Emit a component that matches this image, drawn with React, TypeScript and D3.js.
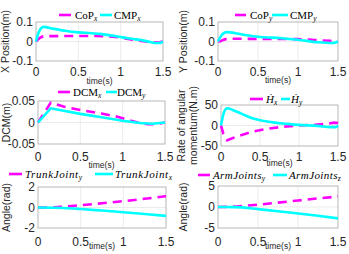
import React from 'react'
import * as d3 from 'd3'

const MAGENTA = '#ff00ff'
const CYAN = '#00ffff'

const X_TICKS = [0, 0.5, 1, 1.5]

// panel 1: X position
const cmpXT = [0, 0.03, 0.06, 0.09, 0.2, 0.36, 0.5, 0.75, 0.9, 1.02, 1.15, 1.25, 1.35, 1.42, 1.47, 1.5]
const cmpX = [0, 0.045, 0.068, 0.075, 0.066, 0.054, 0.047, 0.039, 0.03, 0.021, 0.013, 0.007, -0.003, -0.008, -0.007, 0]
const copXT = [0, 0.05, 0.1, 0.4, 0.7, 0.9, 1.05, 1.2, 1.35, 1.45, 1.5]
const copX = [0, 0.02, 0.027, 0.028, 0.028, 0.025, 0.016, 0.006, -0.003, -0.005, 0]

// panel 2: Y position
const cmpYT = [0, 0.04, 0.08, 0.11, 0.3, 0.5, 0.8, 1.0, 1.25, 1.44, 1.5]
const cmpY = [0, 0.03, 0.045, 0.048, 0.036, 0.024, 0.017, 0.009, -0.004, -0.008, 0]
const copYT = [0, 0.03, 0.1, 0.2, 0.6, 1.0, 1.2, 1.4, 1.5]
const copY = [0, 0.002, 0.012, 0.014, 0.013, 0.012, 0.008, 0.003, 0]

// panel 3: DCM
const dcmXT = [0, 0.15, 0.3, 0.5, 0.75, 0.95, 1.1, 1.2, 1.3, 1.4, 1.5]
const dcmX = [0, 0.046, 0.037, 0.029, 0.021, 0.013, 0.004, -0.001, -0.004, -0.004, 0]
const dcmYT = [0, 0.15, 0.5, 0.75, 1.0, 1.2, 1.35, 1.5]
const dcmY = [0, 0.033, 0.02, 0.012, 0.004, -0.001, -0.003, 0]

// panel 4: rate of angular momentum
const hxT = [0, 0.03, 0.08, 0.2, 0.4, 0.6, 0.8, 1.0, 1.2, 1.35, 1.45, 1.5]
const hx = [0, -20, -36, -27, -15, -8, -3, 0, 2, 4, 7, 6]
const hyT = [0, 0.04, 0.08, 0.15, 0.26, 0.41, 0.55, 0.69, 0.85, 0.99, 1.24, 1.41, 1.47, 1.5]
const hy = [0, 33, 42, 38, 29, 17, 11, 7, 4, 1.5, -1, -4, -4, 0]

// panel 5: trunk joints
const jointT = [0, 0.2, 0.3, 0.5, 0.75, 1.0, 1.25, 1.5]
const trunkY = [0, 0.02, 0.08, 0.22, 0.42, 0.62, 0.85, 1.1]
const trunkX = [0, -0.02, -0.05, -0.15, -0.3, -0.46, -0.63, -0.82]

// panel 6: arm joints
const armY = [0, 0.1, 0.25, 0.55, 1.05, 1.55, 2.05, 2.5]
const armZ = [0, -0.02, -0.1, -0.5, -1.0, -1.55, -2.1, -2.7]

type Series = { t: number[]; v: number[]; color: string; dashed: boolean; linear?: boolean }
type LegendItem = { x1: number; x2: number; tx: number; base: string; sub: string; italic: boolean; ls?: number }

type Panel = {
  box: [number, number, number, number]
  yDomain: [number, number]
  yTicks: number[]
  yLabels: string[]
  ylabel: string[]
  ylabelX: number[]
  tickY: number
  timeY: number
  legendY: number
  legend: LegendItem[]
  series: Series[]
}

const PANELS: Panel[] = [
  {
    box: [36, 22, 163, 61],
    yDomain: [-0.1, 0.1],
    yTicks: [-0.1, 0, 0.1],
    yLabels: ['-0.1', '0', '0.1'],
    ylabel: ['X Position(m)'],
    ylabelX: [5],
    tickY: 72,
    timeY: 81,
    legendY: 15,
    legend: [
      { x1: 59, x2: 71, tx: 75, base: 'CoP', sub: 'x', italic: false },
      { x1: 100, x2: 112, tx: 114, base: 'CMP', sub: 'x', italic: false },
    ],
    series: [
      { t: copXT, v: copX, color: MAGENTA, dashed: true },
      { t: cmpXT, v: cmpX, color: CYAN, dashed: false },
    ],
  },
  {
    box: [218, 22, 338, 61],
    yDomain: [-0.1, 0.1],
    yTicks: [-0.1, 0, 0.1],
    yLabels: ['-0.1', '0', '0.1'],
    ylabel: ['Y Position(m)'],
    ylabelX: [183],
    tickY: 72,
    timeY: 80,
    legendY: 15,
    legend: [
      { x1: 235, x2: 246, tx: 250, base: 'CoP', sub: 'y', italic: false },
      { x1: 272, x2: 288, tx: 290, base: 'CMP', sub: 'y', italic: false },
    ],
    series: [
      { t: copYT, v: copY, color: MAGENTA, dashed: true },
      { t: cmpYT, v: cmpY, color: CYAN, dashed: false },
    ],
  },
  {
    box: [38, 101, 165, 144],
    yDomain: [-0.05, 0.05],
    yTicks: [-0.05, 0, 0.05],
    yLabels: ['-0.05', '0', '0.05'],
    ylabel: ['DCM(m)'],
    ylabelX: [6],
    tickY: 157,
    timeY: 165,
    legendY: 92,
    legend: [
      { x1: 58, x2: 70, tx: 73, base: 'DCM', sub: 'x', italic: false },
      { x1: 106, x2: 117, tx: 117, base: 'DCM', sub: 'y', italic: false },
    ],
    series: [
      { t: dcmXT, v: dcmX, color: MAGENTA, dashed: true, linear: true },
      { t: dcmYT, v: dcmY, color: CYAN, dashed: false, linear: true },
    ],
  },
  {
    box: [221, 105, 338, 146],
    yDomain: [-50, 50],
    yTicks: [-50, 0, 50],
    yLabels: ['-50', '0', '50'],
    ylabel: ['Rate of angular', 'momentum(N.m)'],
    ylabelX: [181, 193],
    tickY: 157,
    timeY: 163,
    legendY: 99,
    legend: [
      { x1: 250, x2: 263, tx: 266, base: '\u1E22', sub: 'x', italic: true },
      { x1: 281, x2: 290, tx: 291, base: '\u1E22', sub: 'y', italic: true },
    ],
    series: [
      { t: hxT, v: hx, color: MAGENTA, dashed: true, linear: true },
      { t: hyT, v: hy, color: CYAN, dashed: false },
    ],
  },
  {
    box: [38, 187, 166, 228],
    yDomain: [-2, 2],
    yTicks: [-2, 0, 2],
    yLabels: ['-2', '0', '2'],
    ylabel: ['Angle(rad)'],
    ylabelX: [6],
    tickY: 242,
    timeY: 246,
    legendY: 174,
    legend: [
      { x1: 9, x2: 22, tx: 25, base: 'TrunkJoint', sub: 'y', italic: true, ls: 0.6 },
      { x1: 95, x2: 113, tx: 115, base: 'TrunkJoint', sub: 'x', italic: true, ls: 0.6 },
    ],
    series: [
      { t: jointT, v: trunkY, color: MAGENTA, dashed: true },
      { t: jointT, v: trunkX, color: CYAN, dashed: false },
    ],
  },
  {
    box: [218, 186, 338, 228],
    yDomain: [-5, 5],
    yTicks: [-5, 0, 5],
    yLabels: ['-5', '0', '5'],
    ylabel: ['Angle(rad)'],
    ylabelX: [183],
    tickY: 242,
    timeY: 246,
    legendY: 175,
    legend: [
      { x1: 198, x2: 210, tx: 213, base: 'ArmJoints', sub: 'y', italic: true, ls: 0.4 },
      { x1: 273, x2: 287, tx: 289, base: 'ArmJoints', sub: 'z', italic: true, ls: 0.4 },
    ],
    series: [
      { t: jointT, v: armY, color: MAGENTA, dashed: true },
      { t: jointT, v: armZ, color: CYAN, dashed: false },
    ],
  },
]

const SANS = 'Liberation Sans, Arial, sans-serif'
const SERIF = 'Liberation Serif, Times New Roman, serif'

function PanelView({ p }: { p: Panel }) {
  const [x0, y0, x1, y1] = p.box
  const xs = d3.scaleLinear().domain([0, 1.5]).range([x0, x1])
  const ys = d3.scaleLinear().domain(p.yDomain).range([y1, y0])
  const midY = (y0 + y1) / 2
  return (
    <g>
      <rect x={x0} y={y0} width={x1 - x0} height={y1 - y0} fill="#fff" />
      {X_TICKS.slice(1, -1).map((t) => (
        <line key={'gx' + t} x1={xs(t)} x2={xs(t)} y1={y0} y2={y1} stroke="#e6e6e6" strokeWidth={0.8} />
      ))}
      {p.yTicks.slice(1, -1).map((t) => (
        <line key={'gy' + t} x1={x0} x2={x1} y1={ys(t)} y2={ys(t)} stroke="#e6e6e6" strokeWidth={0.8} />
      ))}
      <rect x={x0} y={y0} width={x1 - x0} height={y1 - y0} fill="none" stroke="#a6a6a6" strokeWidth={0.8} />
      {p.series.map((s, i) => {
        const pts = s.t.map((t, j) => [t, s.v[j]] as [number, number])
        const line = d3
          .line<[number, number]>()
          .x((d) => xs(d[0]))
          .y((d) => ys(d[1]))
          .curve(s.linear ? d3.curveLinear : d3.curveMonotoneX)
        return (
          <path
            key={i}
            d={line(pts) || ''}
            fill="none"
            stroke={s.color}
            strokeWidth={2.6}
            strokeDasharray={s.dashed ? '9 6' : undefined}
          />
        )
      })}
      {p.yTicks.map((t, i) => (
        <text key={'yt' + t} x={x0 - 3} y={ys(t)} dy="0.35em" textAnchor="end" fontSize={12} fontFamily={SANS} fill="#262626">
          {p.yLabels[i]}
        </text>
      ))}
      {X_TICKS.map((t) => (
        <text key={'xt' + t} x={xs(t)} y={p.tickY} dy="0.35em" textAnchor="middle" fontSize={12} fontFamily={SANS} fill="#262626">
          {String(t)}
        </text>
      ))}
      <text x={(x0 + x1) / 2} y={p.timeY} dy="0.35em" textAnchor="middle" fontSize={8.5} fontFamily={SANS} fill="#262626">
        time(s)
      </text>
      {p.ylabel.map((l, i) => (
        <text
          key={'yl' + i}
          transform={`translate(${p.ylabelX[i]},${midY}) rotate(-90)`}
          dy="0.35em"
          textAnchor="middle"
          fontSize={10.5}
          fontFamily={SANS}
          fill="#262626"
        >
          {l}
        </text>
      ))}
      {p.legend.map((it, i) => (
        <g key={'lg' + i}>
          <line
            x1={it.x1}
            x2={it.x2}
            y1={p.legendY}
            y2={p.legendY}
            stroke={p.series[i].color}
            strokeWidth={2.6}
            strokeDasharray={p.series[i].dashed ? '14 4' : undefined}
          />
          <text
            x={it.tx}
            y={p.legendY}
            dy="0.35em"
            fontSize={11}
            fontFamily={SERIF}
            fill="#000"
            fontStyle={it.italic ? 'italic' : 'normal'}
            letterSpacing={it.ls || 0}
          >
            {it.base}
            <tspan fontSize={7.5} dy="2" fontStyle="italic" letterSpacing={0}>
              {it.sub}
            </tspan>
          </text>
        </g>
      ))}
    </g>
  )
}

export default function App() {
  return (
    <svg width={349} height={254} style={{ position: 'absolute', left: 0, top: 0, background: '#fff' }}>
      {PANELS.map((p, i) => (
        <PanelView key={i} p={p} />
      ))}
    </svg>
  )
}
